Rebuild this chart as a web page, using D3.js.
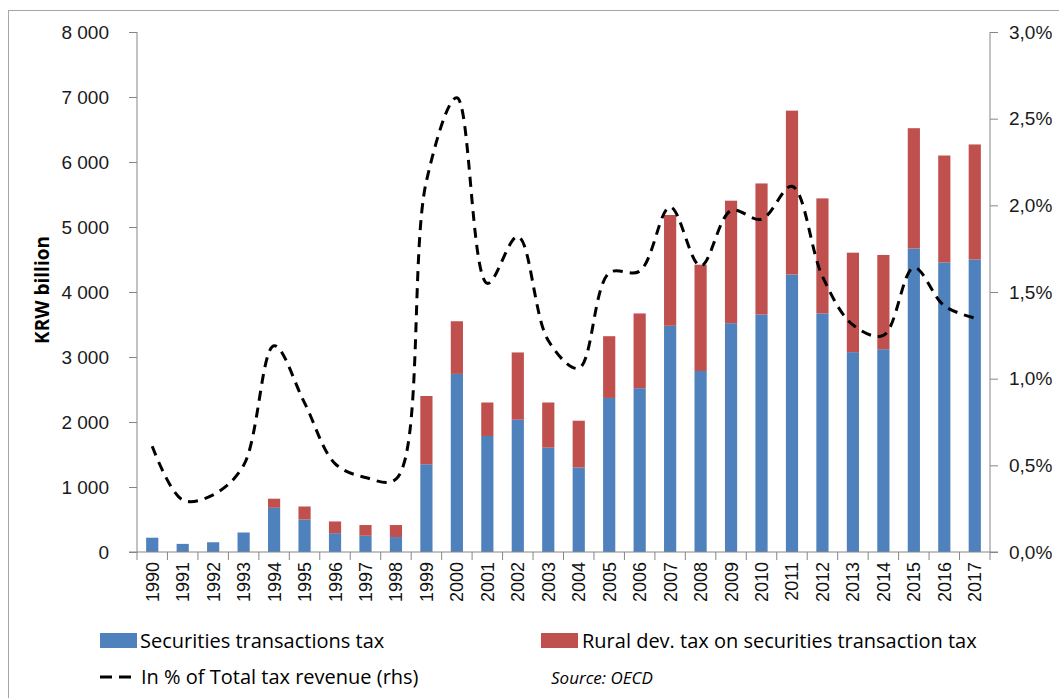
<!DOCTYPE html>
<html>
<head>
<meta charset="utf-8">
<script src="https://cdn.jsdelivr.net/npm/d3@7"></script>
<style>
  body { margin: 0; background: #fff; }
  svg { display: block; }
</style>
</head>
<body>
<div class="chart"></div>
<script>
// data
const years = ['1990', '1991', '1992', '1993', '1994', '1995', '1996', '1997', '1998', '1999',
  '2000', '2001', '2002', '2003', '2004', '2005', '2006', '2007', '2008', '2009',
  '2010', '2011', '2012', '2013', '2014', '2015', '2016', '2017'];
const securitiesTax = [220, 125, 150, 300, 680, 500, 290, 250, 230, 1350,
  2740, 1785, 2035, 1605, 1300, 2370, 2520, 3480, 2785, 3520,
  3655, 4270, 3670, 3075, 3120, 4670, 4455, 4500];
const ruralTax = [0, 0, 0, 0, 140, 200, 180, 165, 185, 1050,
  810, 515, 1035, 695, 720, 950, 1150, 1705, 1635, 1885,
  2015, 2520, 1770, 1530, 1450, 1850, 1645, 1770];
const pctTotalRevenue = [0.61, 0.30, 0.33, 0.50, 1.19, 0.86, 0.51, 0.43, 0.42, 2.14,
  2.62, 1.55, 1.82, 1.22, 1.06, 1.61, 1.62, 1.99, 1.65, 1.97,
  1.92, 2.11, 1.59, 1.31, 1.25, 1.64, 1.42, 1.35];
const leftTicks = [0, 1000, 2000, 3000, 4000, 5000, 6000, 7000, 8000];
const rightTicks = [0, 0.5, 1, 1.5, 2, 2.5, 3];

const W = 1059, H = 698;
const plotL = 137, plotR = 990, plotT = 32, plotB = 552;
const axisColor = '#868686';
const blue = '#4f81bd', red = '#c0504d';

const svg = d3.select('.chart')
  .append('svg')
  .attr('width', W)
  .attr('height', H);

// outer frame
svg.append('rect')
  .attr('x', 8.5).attr('y', 10.5)
  .attr('width', 1200).attr('height', 900)
  .attr('fill', 'none')
  .attr('stroke', '#a6a6a6');

const x = d3.scaleBand().domain(years).range([plotL, plotR]).paddingInner(0.6).paddingOuter(0.3);
const xb = d3.scaleBand().domain(years).range([plotL, plotR]);
const y = d3.scaleLinear().domain([0, 8000]).range([plotB, plotT]);
const y2 = d3.scaleLinear().domain([0, 3]).range([plotB, plotT]);

const fmtRight = d => d.toFixed(1).replace('.', ',') + '%';

// left axis
const gl = svg.append('g')
  .attr('transform', `translate(${plotL},0)`)
  .call(d3.axisLeft(y).tickValues(leftTicks).tickSize(8).tickPadding(20).tickFormat(d => d3.format(',')(d).replace(',', ' ')));
// right axis
const gr = svg.append('g')
  .attr('transform', `translate(${plotR},0)`)
  .call(d3.axisRight(y2).tickValues(rightTicks).tickSize(8).tickPadding(11).tickFormat(fmtRight));

[gl, gr].forEach(g => {
  g.select('.domain').attr('stroke', axisColor).attr('d', `M0,${plotT}V${plotB}`);
  g.selectAll('.tick line').attr('stroke', axisColor);
  g.selectAll('.tick text')
    .attr('fill', '#1a1a1a')
    .style('font-family', '"Liberation Sans", Arial, sans-serif')
    .style('font-size', '19px');
});

// bars
const stacked = years.map((yr, i) => ({ yr, a: securitiesTax[i], b: ruralTax[i] }));
svg.append('g').selectAll('rect')
  .data(stacked).enter().append('rect')
  .attr('x', d => x(d.yr))
  .attr('width', x.bandwidth())
  .attr('y', d => y(d.a))
  .attr('height', d => y(0) - y(d.a))
  .attr('fill', blue);
svg.append('g').selectAll('rect')
  .data(stacked.filter(d => d.b > 0)).enter().append('rect')
  .attr('x', d => x(d.yr))
  .attr('width', x.bandwidth())
  .attr('y', d => y(d.a + d.b))
  .attr('height', d => y(d.a) - y(d.a + d.b))
  .attr('fill', red);

// x axis
const gx = svg.append('g')
  .attr('transform', `translate(0,${plotB})`);
gx.append('line')
  .attr('x1', plotL - 8).attr('x2', plotR + 8)
  .attr('stroke', axisColor);
gx.selectAll('.tk')
  .data(years.concat(['end'])).enter().append('line')
  .attr('x1', (d, i) => i < years.length ? xb(d) : plotR)
  .attr('x2', (d, i) => i < years.length ? xb(d) : plotR)
  .attr('y1', 0).attr('y2', 8)
  .attr('stroke', axisColor);
gx.selectAll('text')
  .data(years).enter().append('text')
  .attr('transform', d => `translate(${xb(d) + xb.bandwidth() / 2 + 6.5},10) rotate(-90)`)
  .attr('text-anchor', 'end')
  .style('font-family', '"Liberation Sans", Arial, sans-serif')
  .style('font-size', '18px')
  .attr('fill', '#111')
  .text(d => d);

// line (rhs)
const line = d3.line()
  .x((d, i) => xb(years[i]) + xb.bandwidth() / 2)
  .y(d => y2(d))
  .curve(d3.curveCatmullRom.alpha(0.5));
svg.append('path')
  .datum(pctTotalRevenue)
  .attr('d', line)
  .attr('fill', 'none')
  .attr('stroke', '#000')
  .attr('stroke-width', 3)
  .attr('stroke-dasharray', '10,7');

// y title
svg.append('text')
  .attr('transform', `translate(49,${(plotT + plotB) / 2 - 2}) rotate(-90)`)
  .attr('text-anchor', 'middle')
  .style('font-family', '"Open Sans", sans-serif')
  .style('font-weight', 'bold')
  .style('font-size', '19px')
  .text('KRW billion');

// legend
const legFont = '"Open Sans", sans-serif';
const leg = svg.append('g');
leg.append('rect').attr('x', 100).attr('y', 633).attr('width', 37).attr('height', 15).attr('fill', blue);
leg.append('text').attr('x', 140).attr('y', 648).text('Securities transactions tax');
leg.append('rect').attr('x', 541).attr('y', 633).attr('width', 37).attr('height', 15).attr('fill', red);
leg.append('text').attr('x', 582).attr('y', 648).text('Rural dev. tax on securities transaction tax');
leg.append('line').attr('x1', 100).attr('x2', 136).attr('y1', 677).attr('y2', 677)
  .attr('stroke', '#000').attr('stroke-width', 3).attr('stroke-dasharray', '12,7');
leg.append('text').attr('x', 141).attr('y', 684).text('In % of Total tax revenue (rhs)');
leg.append('text').attr('x', 551).attr('y', 684).style('font-style', 'italic').style('font-size', '17px').text('Source: OECD');
leg.selectAll('text')
  .style('font-family', legFont)
  .filter(function () { return !this.style.fontSize; })
  .style('font-size', '20px');
</script>
</body>
</html>
